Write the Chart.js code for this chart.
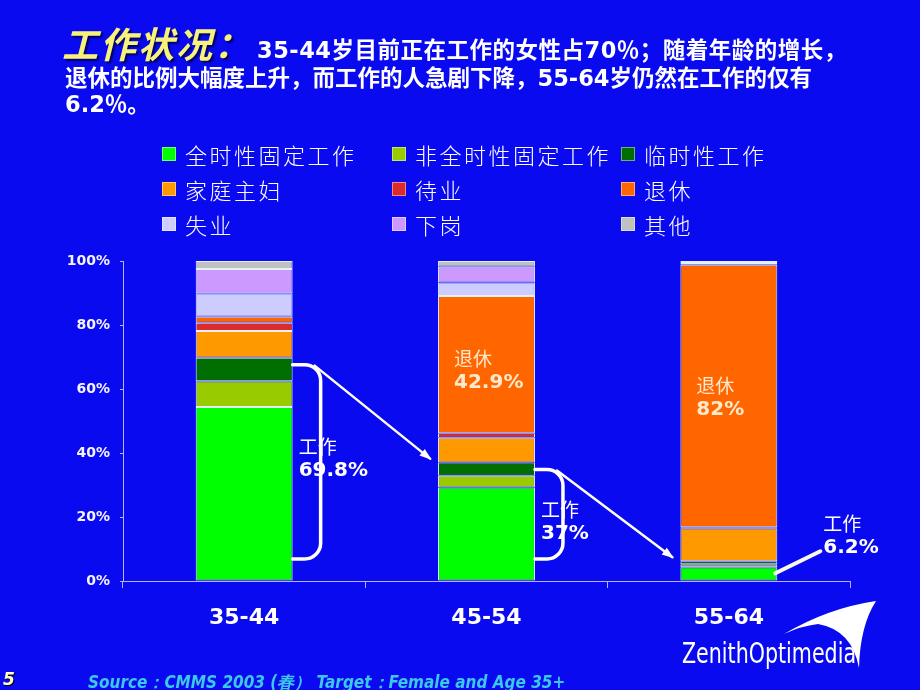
<!DOCTYPE html>
<html>
<head>
<meta charset="utf-8">
<script src="https://cdn.jsdelivr.net/npm/chart.js@4.4.1/dist/chart.umd.min.js"></script>
<style>
  html, body { margin: 0; padding: 0; }
  body { width: 920px; height: 690px; background: #0a0af0; position: relative; overflow: hidden;
         font-family: "Noto Sans CJK SC", "DejaVu Sans", sans-serif; color: #fff; }
  #chart { position: absolute; left: 0; top: 0; }
  .abs { position: absolute; white-space: nowrap; }
  .num { font-family: "DejaVu Sans", sans-serif; font-weight: bold; }
  #head { left: 62px; top: 21px; font-size: 36px; line-height: 42px; font-style: italic; font-weight: bold;
          letter-spacing: 2px; color: #f6f27a; text-shadow: 2px 2px 2px #000060; }
  .tl { font-size: 22.5px; line-height: 26px; font-weight: bold; left: 65px; }
  #legend { left: 162px; top: 141px; display: grid; grid-template-columns: 230px 229px 230px; row-gap: 9px; }
  #legend .item { display: flex; align-items: center; height: 26px; font-size: 22px; font-weight: 300; letter-spacing: 2.5px; }
  #legend .sw { width: 14px; height: 14px; margin-right: 9px; box-sizing: border-box; border: 1px solid rgba(255,255,255,0.45); }
  #pg { left: 3px; top: 669px; font-family: "DejaVu Sans", sans-serif; font-size: 17px; font-weight: bold; font-style: italic; color: #ffffc8; text-shadow: 1px 1px 1px #000; }
  #src { left: 88px; top: 671px; font-family: "DejaVu Sans Condensed", "DejaVu Sans", sans-serif; font-size: 17px; font-weight: bold; font-style: italic; color: #3cc8e8; }
  #logo { left: 682px; top: 636px; font-family: "DejaVu Sans Condensed", sans-serif; font-size: 29px; color: #fff;
          transform: scaleX(0.79); transform-origin: left top; }
</style>
</head>
<body>
<canvas id="chart" width="920" height="690"></canvas>

<div class="abs" id="head">工作状况：</div>
<div class="abs tl" style="left:257px; top:35px; letter-spacing:0.5px;"><span class="num">35-44</span>岁目前正在工作的女性占<span class="num">70</span>％；随着年龄的增长，</div>
<div class="abs tl" style="top:63px;">退休的比例大幅度上升，而工作的人急剧下降，<span class="num">55-64</span>岁仍然在工作的仅有</div>
<div class="abs tl" style="top:89px;"><span class="num">6.2</span>％。</div>

<div class="abs" id="legend"></div>

<div class="abs" id="pg">5</div>
<div class="abs" id="src">Source：CMMS 2003 (春） Target：Female and Age 35+</div>
<div class="abs" id="logo">ZenithOptimedia</div>
<svg class="abs" style="left:0; top:0;" width="920" height="690">
  <path d="M784 634 Q828 608 876 601 Q860 626 859 668 Q852 630 818 624 Q801 626 784 634 Z" fill="#fff"/>
</svg>

<script>
// age groups
const ages = ['35-44', '45-54', '55-64'];

// share of women (%) in each status, per age group
const fullTime  = [54.4, 29.2, 4.3];   // 全时性固定工作
const partTime  = [8.0, 3.7, 0.9];     // 非全时性固定工作
const temporary = [7.4, 4.1, 1.0];     // 临时性工作
const housewife = [8.3, 7.8, 10.3];    // 家庭主妇
const waiting   = [2.6, 1.4, 0.3];     // 待业
const retired   = [1.9, 42.9, 82.0];   // 退休
const jobless   = [7.3, 4.2, 0.3];     // 失业
const laidOff   = [7.6, 4.9, 0.3];     // 下岗
const other     = [2.5, 1.8, 0.6];     // 其他

// callout labels
const workLabels = ['69.8%', '37%', '6.2%'];
const workTotals = [69.8, 37, 6.2];
const retiredLabels = [null, '42.9%', '82%'];

const yTicks = [0, 20, 40, 60, 80, 100];

const series = [
    { label: '全时性固定工作', data: fullTime, color: '#00ff00' },
    { label: '非全时性固定工作', data: partTime, color: '#99cc00' },
    { label: '临时性工作', data: temporary, color: '#006e00' },
    { label: '家庭主妇', data: housewife, color: '#ff9900' },
    { label: '待业', data: waiting, color: '#dd2b2b' },
    { label: '退休', data: retired, color: '#ff6600' },
    { label: '失业', data: jobless, color: '#ccccff' },
    { label: '下岗', data: laidOff, color: '#cc99ff' },
    { label: '其他', data: other, color: '#c0c0c0' }
];

// legend, 3 per row
const legend = document.getElementById('legend');
series.forEach(function (s) {
    const item = document.createElement('div');
    item.className = 'item';
    item.innerHTML = '<span class="sw" style="background:' + s.color + '"></span>' + s.label;
    legend.appendChild(item);
});

const cjk = '"Noto Sans CJK SC", sans-serif';
const latin = '"DejaVu Sans", sans-serif';

function arrow(ctx, x1, y1, x2, y2) {
    ctx.beginPath();
    ctx.moveTo(x1, y1);
    ctx.lineTo(x2, y2);
    ctx.stroke();
    const a = Math.atan2(y2 - y1, x2 - x1);
    ctx.beginPath();
    ctx.moveTo(x2 + 2 * Math.cos(a), y2 + 2 * Math.sin(a));
    ctx.lineTo(x2 - 11 * Math.cos(a - 0.4), y2 - 11 * Math.sin(a - 0.4));
    ctx.lineTo(x2 - 11 * Math.cos(a + 0.4), y2 - 11 * Math.sin(a + 0.4));
    ctx.closePath();
    ctx.fill();
}

function twoLines(ctx, x, y, top, bottom, color) {
    ctx.fillStyle = color;
    ctx.textAlign = 'left';
    ctx.textBaseline = 'middle';
    ctx.font = '19px ' + cjk;
    ctx.fillText(top, x, y);
    ctx.font = 'bold 20px ' + latin;
    ctx.fillText(bottom, x, y + 24);
}

// brackets, arrows and labels
const callouts = {
    id: 'callouts',
    afterDatasetsDraw(chart) {
        const ctx = chart.ctx;
        const y = chart.scales.y;
        const bars = chart.getDatasetMeta(0).data;
        const retMeta = chart.getDatasetMeta(5).data;
        ctx.save();
        ctx.strokeStyle = '#ffffff';
        ctx.fillStyle = '#ffffff';
        ctx.lineCap = 'round';

        for (let i = 0; i < 2; i++) {
            const b = bars[i];
            const x0 = b.x + b.width / 2;
            const top = y.getPixelForValue(workTotals[i]) + 7;
            const bottom = y.getPixelForValue(0) - 22;
            const xr = x0 + 28, r = 16;
            ctx.lineWidth = 3.5;
            ctx.beginPath();
            ctx.moveTo(x0, top);
            ctx.lineTo(xr - r, top);
            ctx.arcTo(xr, top, xr, top + r, r);
            ctx.lineTo(xr, bottom - r);
            ctx.arcTo(xr, bottom, xr - r, bottom, r);
            ctx.lineTo(x0, bottom);
            ctx.stroke();

            const nb = bars[i + 1];
            ctx.lineWidth = 2.5;
            arrow(ctx, x0 + 22, top + 1, nb.x - nb.width / 2 - 8, y.getPixelForValue(workTotals[i + 1]) - 4);

            twoLines(ctx, x0 + 6, y.getPixelForValue(workTotals[i] * 0.6), '工作', workLabels[i], '#ffffff');
        }

        // last group: short leader line
        const b3 = bars[2];
        const x3 = b3.x + b3.width / 2;
        ctx.strokeStyle = '#f8f8e4';
        ctx.lineWidth = 4;
        ctx.beginPath();
        ctx.moveTo(x3 - 2, y.getPixelForValue(2.4));
        ctx.lineTo(x3 + 43, y.getPixelForValue(9.3));
        ctx.stroke();
        twoLines(ctx, x3 + 46, y.getPixelForValue(17.8), '工作', workLabels[2], '#ffffff');

        // retired labels inside bars
        for (let i = 1; i < 3; i++) {
            const seg = retMeta[i];
            const cy = seg.base + (seg.y - seg.base) * 0.54;
            twoLines(ctx, seg.x - seg.width / 2 + 16, cy, '退休', retiredLabels[i], '#ffe9cc');
        }
        ctx.restore();
    }
};

const axisColor = '#b4b4f0';

new Chart(document.getElementById('chart'), {
    type: 'bar',
    data: {
        labels: ages,
        datasets: series.map(function (s) {
            return {
                label: s.label,
                data: s.data,
                backgroundColor: s.color,
                borderColor: '#e4f2f8',
                borderWidth: 1,
                borderSkipped: false,
                barPercentage: 0.4,
                categoryPercentage: 1.0
            };
        })
    },
    options: {
        responsive: false,
        animation: false,
        layout: { padding: { left: 53, right: 70, top: 261, bottom: 59 } },
        plugins: { legend: { display: false }, tooltip: { enabled: false } },
        scales: {
            x: {
                stacked: true,
                grid: { drawOnChartArea: false, color: axisColor, tickLength: 7, offset: true },
                border: { color: axisColor },
                ticks: { color: '#ffffff', padding: 17, font: { family: latin, size: 22, weight: 'bold' } },
                afterFit: function (s) { s.height = 50; }
            },
            y: {
                stacked: true,
                min: 0,
                max: 100,
                afterBuildTicks: function (s) { s.ticks = yTicks.map(function (v) { return { value: v }; }); },
                grid: { drawOnChartArea: false, color: axisColor, tickLength: 3 },
                border: { color: axisColor },
                ticks: {
                    color: '#f4f4ff',
                    padding: 10,
                    font: { family: latin, size: 14, weight: 'bold' },
                    callback: function (v) { return v + '%'; }
                },
                afterFit: function (s) { s.width = 70; }
            }
        }
    },
    plugins: [callouts]
});
</script>
</body>
</html>
